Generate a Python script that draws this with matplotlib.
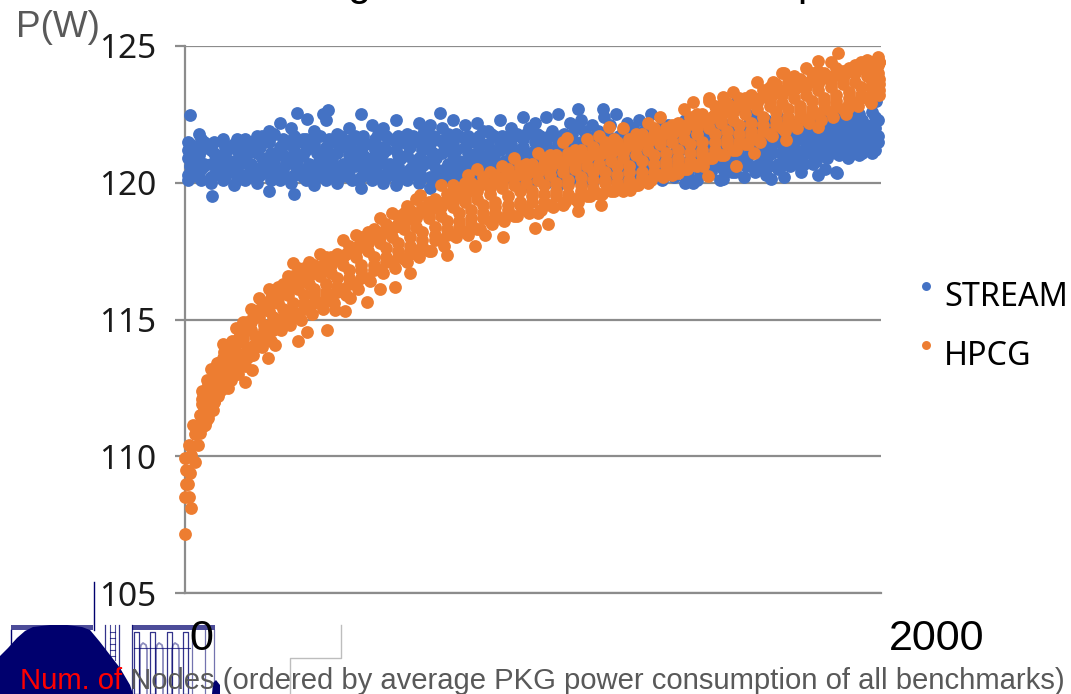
import matplotlib
matplotlib.use("Agg")
import matplotlib.pyplot as plt
from matplotlib.patches import Polygon, Rectangle

W, H = 1071, 694
BLUE = "#4472C4"
ORANGE = "#ED7D31"
NAVY = "#00006e"
GRID = "#8c8c8c"
TEXT_GRAY = "#595959"
NOTO = ["Noto Sans", "DejaVu Sans"]
ARIAL = ["Liberation Sans", "DejaVu Sans"]

y_ticks = [105, 110, 115, 120, 125]
x_ticks = [0, 2000]
x_tick_labels = ["0", "2000"]

stream_x_a = [8, 40, 75, 108, 140, 172, 208, 240, 272, 305, 340, 372, 405, 438, 470, 505, 538, 570, 605, 638,
              672, 705, 738, 770, 805, 838, 872, 905, 938, 970, 1005, 1038, 1072, 1105, 1138, 1170, 1205, 1238, 1270, 1305,
              1338, 1372, 1405, 1438, 1470, 1505, 1538, 1572, 1605, 1638, 1670, 1705, 1738, 1770, 1805, 1838, 1872, 1905, 1938, 1975]
stream_x_b = [22, 55, 90, 122, 155, 190, 222, 255, 290, 322, 355, 388, 422, 455, 488, 520, 555, 588, 620, 655,
              688, 722, 755, 788, 820, 855, 888, 920, 955, 988, 1020, 1055, 1088, 1120, 1155, 1188, 1220, 1255, 1288, 1320,
              1355, 1388, 1420, 1455, 1488, 1520, 1555, 1588, 1620, 1655, 1688, 1720, 1755, 1788, 1820, 1855, 1888, 1920, 1955, 1992]
stream_x_c = [14, 47, 82, 115, 148, 180, 215, 248, 281, 314, 348, 380, 414, 446, 479, 512, 546, 579, 612, 646,
              680, 714, 746, 779, 812, 846, 880, 912, 946, 979, 1012, 1046, 1080, 1112, 1146, 1179, 1212, 1246, 1279, 1312,
              1346, 1380, 1412, 1446, 1479, 1512, 1546, 1580, 1612, 1646, 1679, 1712, 1746, 1779, 1812, 1846, 1880, 1912, 1946, 1984]
stream_top = [121.5, 121.8, 121.2, 121.6, 121.3, 121.4, 121.7, 121.9, 122.2, 122.0, 121.6, 121.9, 122.3, 121.8, 122.0, 122.5, 122.1, 122.0, 122.3, 121.8,
              122.2, 122.1, 122.0, 122.3, 122.1, 122.2, 121.9, 122.3, 122.0, 122.4, 122.2, 122.4, 122.5, 122.2, 122.3, 122.1, 122.4, 122.5, 122.2, 122.3,
              122.5, 122.1, 122.0, 122.3, 122.1, 122.2, 122.4, 122.1, 122.7, 122.5, 122.3, 122.4, 122.2, 122.2, 122.3, 122.4, 122.4, 122.5, 122.5, 122.6]
stream_up = [121.3, 121.5, 121.0, 121.2, 121.3, 121.5, 121.7, 121.8, 121.4, 121.6, 121.3, 121.7, 121.5, 121.6, 121.7, 121.4, 121.8, 121.6, 121.5, 121.7,
             121.9, 121.6, 121.8, 121.7, 121.5, 121.9, 121.7, 121.6, 121.8, 122.0, 121.7, 121.9, 121.8, 122.0, 121.7, 121.9, 122.1, 121.8, 122.0, 121.9,
             121.8, 122.1, 121.9, 121.7, 122.0, 121.9, 122.1, 121.8, 122.2, 122.0, 121.9, 122.1, 121.8, 122.0, 121.9, 122.1, 122.0, 122.2, 122.1, 122.3]
stream_r1 = [121.2, 121.3, 121.4, 121.5, 121.4, 121.6, 121.3, 121.5, 121.3, 121.4, 121.5, 121.4, 121.3, 121.5, 121.4, 121.5, 121.4, 121.3, 121.5, 121.4,
             121.5, 121.4, 121.5, 121.4, 121.6, 121.5, 121.4, 121.5, 121.4, 121.6, 121.5, 121.4, 121.5, 121.6, 121.5, 121.5, 121.6, 121.5, 121.6, 121.6,
             121.7, 121.6, 121.5, 121.6, 121.7, 121.6, 121.7, 121.6, 121.7, 121.8, 121.7, 121.8, 121.7, 121.9, 121.8, 121.9, 121.9, 122.0, 122.0, 122.1]
stream_mid = [120.9, 121.0, 120.7, 120.9, 120.8, 121.0, 121.1, 120.9, 121.2, 120.9, 121.0, 121.3, 120.8, 121.1, 121.0, 121.2, 120.9, 121.1, 121.2, 121.0,
              120.9, 121.2, 121.1, 121.0, 121.3, 121.1, 121.0, 121.2, 121.1, 121.3, 121.2, 121.0, 121.3, 121.2, 121.4, 121.1, 121.3, 121.2, 121.4, 121.2,
              121.5, 121.3, 121.1, 121.4, 121.3, 121.2, 121.5, 121.3, 121.4, 121.6, 121.2, 121.5, 121.3, 121.6, 121.5, 121.7, 121.6, 121.7, 121.8, 121.9]
stream_r2 = [120.8, 120.7, 120.9, 120.7, 120.8, 120.7, 120.9, 120.8, 120.7, 120.8, 120.7, 120.9, 120.8, 120.7, 120.9, 120.8, 120.8, 120.7, 120.9, 120.8,
             120.8, 120.9, 120.7, 120.8, 120.9, 120.8, 120.9, 120.8, 120.9, 120.8, 120.9, 120.8, 121.0, 120.9, 121.0, 121.0, 120.9, 121.0, 121.1, 121.0,
             121.1, 121.0, 121.2, 121.1, 121.0, 121.2, 121.1, 121.2, 121.3, 121.2, 121.4, 121.3, 121.2, 121.4, 121.3, 121.5, 121.5, 121.6, 121.6, 121.7]
stream_low = [120.5, 120.6, 120.4, 120.5, 120.7, 120.4, 120.6, 120.5, 120.7, 120.4, 120.6, 120.5, 120.7, 120.4, 120.6, 120.5, 120.7, 120.5, 120.4, 120.6,
              120.7, 120.5, 120.6, 120.4, 120.7, 120.6, 120.5, 120.7, 120.6, 120.5, 120.7, 120.6, 120.8, 120.6, 120.7, 120.8, 120.6, 120.8, 120.7, 120.9,
              120.7, 120.6, 120.8, 120.9, 120.7, 120.6, 120.9, 120.8, 121.0, 120.8, 121.1, 120.9, 120.8, 121.1, 121.0, 121.3, 121.2, 121.4, 121.4, 121.5]
stream_r3 = [120.3, 120.4, 120.2, 120.3, 120.4, 120.3, 120.2, 120.4, 120.3, 120.2, 120.4, 120.3, 120.2, 120.4, 120.3, 120.2, 120.4, 120.3, 120.2, 120.4,
             120.3, 120.2, 120.4, 120.3, 120.4, 120.3, 120.4, 120.3, 120.4, 120.3, 120.4, 120.3, 120.4, 120.5, 120.4, 120.5, 120.4, 120.5, 120.4, 120.5,
             120.6, 120.5, 120.6, 120.5, 120.6, 120.5, 120.7, 120.6, 120.8, 120.6, 120.9, 120.7, 120.8, 120.9, 121.0, 121.0, 121.1, 121.2, 121.2, 121.3]
stream_bot = [120.1, 120.2, 120.0, 120.1, 119.9, 120.1, 120.0, 119.7, 120.1, 120.0, 120.2, 119.9, 120.1, 120.0, 120.2, 119.8, 120.1, 120.0, 119.9, 120.1,
              120.0, 119.8, 120.1, 120.2, 120.0, 119.8, 120.1, 120.0, 120.2, 119.9, 120.1, 120.0, 119.9, 120.1, 120.2, 120.0, 120.2, 120.1, 120.0, 120.2,
              120.3, 120.1, 120.2, 120.0, 120.1, 120.3, 120.1, 120.4, 120.2, 120.4, 120.3, 120.5, 120.6, 120.4, 120.7, 120.5, 120.4, 120.9, 121.0, 121.1]
stream_r4 = [121.1, 121.2, 121.1, 121.0, 121.2, 121.1, 121.3, 121.1, 121.0, 121.2, 121.2, 121.1, 121.1, 121.3, 121.2, 121.0, 121.2, 121.2, 121.0, 121.3,
             121.2, 121.1, 121.3, 121.2, 121.1, 121.3, 121.2, 121.3, 121.2, 121.1, 121.3, 121.2, 121.1, 121.3, 121.2, 121.3, 121.1, 121.4, 121.2, 121.4,
             121.3, 121.5, 121.4, 121.2, 121.5, 121.4, 121.3, 121.5, 121.5, 121.4, 121.5, 121.6, 121.5, 121.7, 121.6, 121.8, 121.8, 121.9, 121.9, 122.0]
stream_r5 = [120.6, 120.5, 120.7, 120.6, 120.5, 120.7, 120.5, 120.6, 120.5, 120.7, 120.5, 120.7, 120.6, 120.5, 120.7, 120.6, 120.5, 120.7, 120.6, 120.5,
             120.6, 120.7, 120.5, 120.7, 120.5, 120.7, 120.6, 120.5, 120.7, 120.7, 120.5, 120.7, 120.6, 120.7, 120.6, 120.7, 120.8, 120.6, 120.8, 120.7,
             120.9, 120.8, 120.7, 120.8, 120.9, 120.8, 121.0, 120.9, 120.9, 121.1, 121.0, 121.1, 121.0, 121.2, 121.2, 121.4, 121.4, 121.5, 121.5, 121.6]
stream_r6 = [120.2, 120.1, 120.3, 120.2, 120.1, 120.2, 120.3, 120.1, 120.2, 120.3, 120.1, 120.2, 120.3, 120.2, 120.1, 120.3, 120.2, 120.2, 120.1, 120.3,
             120.2, 120.1, 120.3, 120.1, 120.2, 120.2, 120.3, 120.2, 120.1, 120.2, 120.3, 120.2, 120.2, 120.3, 120.3, 120.2, 120.3, 120.3, 120.2, 120.4,
             120.4, 120.3, 120.4, 120.3, 120.4, 120.4, 120.5, 120.4, 120.6, 120.5, 120.6, 120.6, 120.7, 120.7, 120.8, 120.9, 121.0, 121.0, 121.1, 121.2]
stream_r7 = [121.4, 121.6, 121.5, 121.3, 121.6, 121.5, 121.6, 121.7, 121.6, 121.7, 121.6, 121.7, 121.6, 121.7, 121.6, 121.7, 121.6, 121.7, 121.7, 121.6,
             121.7, 121.7, 121.6, 121.8, 121.7, 121.7, 121.8, 121.7, 121.7, 121.8, 121.8, 121.7, 121.7, 121.8, 121.9, 121.7, 121.8, 121.7, 121.8, 121.8,
             121.9, 121.8, 121.8, 121.9, 121.9, 122.0, 121.9, 122.0, 121.9, 122.1, 122.0, 122.0, 122.0, 122.1, 122.1, 122.2, 122.2, 122.2, 122.3, 122.4]
stream_extra_x = [14, 78, 313, 322, 351, 397, 412, 734, 1128, 1200, 1459, 1545, 1583, 1683, 1721, 1819, 1873, 1986]
stream_extra_y = [122.48, 119.5, 119.6, 122.55, 122.33, 122.5, 122.65, 122.55, 122.7, 122.7, 120.0, 120.15, 122.95, 120.15, 120.2, 120.3, 120.35, 123.0]

# HPCG, the narrow start first and then rows along the curve
hpcg_start_x = [0, 0, 11, 17, 3, 8, 3, 14, 0, 29, 17, 11, 37, 29, 43, 23, 58, 43, 60]
hpcg_start_y = [107.15, 108.5, 108.5, 108.1, 109.0, 109.0, 109.5, 109.4, 109.95, 109.8, 110.05, 110.4, 110.4, 110.8, 110.85, 111.15, 111.15, 111.5, 111.3]
hpcg_x_a = [50, 62, 76, 92, 108, 126, 146, 168, 190, 214, 240, 268, 296, 326, 356, 388, 420, 455, 490, 525,
            560, 595, 630, 665, 700, 735, 770, 805, 840, 875, 910, 945, 980, 1015, 1050, 1085, 1120, 1155, 1190, 1225,
            1260, 1295, 1330, 1365, 1400, 1435, 1470, 1505, 1540, 1575, 1610, 1645, 1680, 1715, 1750, 1785, 1820, 1855, 1890, 1925, 1960, 1990]
hpcg_x_b = [56, 69, 84, 100, 117, 136, 157, 179, 202, 227, 254, 282, 311, 341, 372, 404, 437, 472, 507, 542,
            577, 612, 647, 682, 717, 752, 787, 822, 857, 892, 927, 962, 997, 1032, 1067, 1102, 1137, 1172, 1207, 1242,
            1277, 1312, 1347, 1382, 1417, 1452, 1487, 1522, 1557, 1592, 1627, 1662, 1697, 1732, 1767, 1802, 1837, 1872, 1907, 1942, 1975, 1995]
hpcg_x_c = [53, 65, 80, 96, 112, 131, 151, 173, 196, 220, 247, 275, 303, 333, 364, 396, 428, 463, 498, 533,
            568, 603, 638, 673, 708, 743, 778, 813, 848, 883, 918, 953, 988, 1023, 1058, 1093, 1128, 1163, 1198, 1233,
            1268, 1303, 1338, 1373, 1408, 1443, 1478, 1513, 1548, 1583, 1618, 1653, 1688, 1723, 1758, 1793, 1828, 1863, 1898, 1933, 1968, 1993]
hpcg_top = [112.4, 112.8, 113.2, 113.4, 114.1, 114.0, 114.7, 114.9, 115.4, 115.8, 116.1, 116.2, 116.6, 116.9, 117.1, 117.4, 117.3, 117.9, 118.1, 118.2,
            118.7, 118.9, 118.9, 119.4, 119.3, 119.9, 119.9, 120.0, 120.5, 120.4, 120.6, 120.9, 120.7, 121.1, 121.0, 121.5, 121.2, 121.6, 121.7, 121.5,
            122.0, 121.8, 122.2, 122.4, 122.1, 122.7, 122.5, 123.0, 122.8, 123.3, 123.1, 123.7, 123.5, 124.0, 123.9, 124.2, 124.1, 124.4, 124.1, 124.3, 124.5, 124.6]
hpcg_hi = [112.2, 112.6, 113.0, 113.4, 113.9, 114.2, 114.5, 114.9, 115.3, 115.6, 115.9, 116.3, 116.6, 116.9, 117.0, 117.3, 117.4, 117.7, 118.0, 118.3,
           118.5, 118.8, 119.0, 119.1, 119.4, 119.6, 119.8, 120.0, 120.2, 120.3, 120.5, 120.6, 120.7, 120.9, 121.0, 121.1, 121.2, 121.3, 121.5, 121.5,
           121.6, 121.8, 122.0, 122.0, 122.2, 122.4, 122.5, 122.8, 122.9, 123.1, 123.2, 123.4, 123.6, 123.7, 123.8, 124.0, 124.0, 124.2, 124.2, 124.4, 124.4, 124.4]
hpcg_up = [112.2, 112.5, 112.8, 113.4, 113.8, 113.9, 114.3, 114.7, 115.1, 115.5, 115.8, 116.0, 116.4, 116.6, 116.8, 117.0, 117.2, 117.5, 117.7, 118.0,
           118.3, 118.5, 118.7, 119.0, 119.1, 119.3, 119.6, 119.8, 120.0, 120.1, 120.3, 120.4, 120.6, 120.7, 120.8, 121.0, 121.1, 121.2, 121.3, 121.4,
           121.5, 121.6, 121.8, 121.9, 122.0, 122.2, 122.4, 122.5, 122.7, 122.9, 123.0, 123.2, 123.3, 123.5, 123.7, 123.8, 123.9, 124.0, 124.1, 124.2, 124.3, 124.4]
hpcg_over = [112.3, 112.6, 112.9, 113.4, 113.8, 114.0, 114.3, 114.7, 115.1, 115.5, 115.8, 116.0, 116.3, 116.5, 116.8, 117.0, 117.2, 117.4, 117.7, 118.0,
             118.2, 118.4, 118.7, 118.9, 119.1, 119.3, 119.5, 119.7, 119.9, 120.0, 120.2, 120.3, 120.4, 120.5, 120.7, 120.8, 120.9, 121.0, 121.1, 121.2,
             121.3, 121.4, 121.6, 121.8, 121.9, 122.1, 122.2, 122.4, 122.6, 122.8, 122.9, 123.1, 123.2, 123.4, 123.5, 123.7, 123.8, 123.9, 124.0, 124.2, 124.3, 124.4]
hpcg_r1 = [112.1, 112.4, 112.7, 113.2, 113.6, 113.8, 114.1, 114.5, 114.9, 115.3, 115.6, 115.8, 116.1, 116.3, 116.6, 116.8, 117.0, 117.3, 117.5, 117.8,
           118.0, 118.3, 118.5, 118.7, 118.9, 119.1, 119.3, 119.5, 119.7, 119.8, 120.0, 120.2, 120.3, 120.4, 120.5, 120.6, 120.7, 120.9, 121.0, 121.1,
           121.1, 121.3, 121.5, 121.6, 121.8, 121.9, 122.0, 122.3, 122.4, 122.6, 122.8, 122.9, 123.0, 123.2, 123.4, 123.5, 123.6, 123.7, 123.8, 124.0, 124.1, 124.3]
hpcg_mid = [111.9, 112.1, 112.5, 113.0, 113.3, 113.7, 113.8, 114.3, 114.6, 115.1, 115.3, 115.6, 115.9, 116.1, 116.3, 116.6, 116.7, 117.0, 117.3, 117.5,
            117.8, 118.0, 118.3, 118.4, 118.7, 118.8, 119.1, 119.3, 119.4, 119.6, 119.8, 119.9, 120.0, 120.1, 120.3, 120.4, 120.5, 120.6, 120.7, 120.8,
            120.9, 121.0, 121.2, 121.4, 121.5, 121.6, 121.8, 122.0, 122.2, 122.3, 122.5, 122.7, 122.8, 122.9, 123.1, 123.2, 123.4, 123.5, 123.6, 123.7, 123.9, 124.0]
hpcg_r2 = [111.7, 112.0, 112.3, 112.8, 113.1, 113.4, 113.7, 114.0, 114.4, 114.8, 115.1, 115.4, 115.6, 115.9, 116.1, 116.3, 116.5, 116.8, 117.0, 117.3,
           117.6, 117.8, 118.0, 118.2, 118.4, 118.6, 118.9, 119.0, 119.2, 119.3, 119.5, 119.7, 119.7, 119.9, 120.0, 120.1, 120.2, 120.4, 120.4, 120.6,
           120.6, 120.8, 121.0, 121.1, 121.2, 121.4, 121.5, 121.8, 121.9, 122.1, 122.2, 122.4, 122.6, 122.7, 122.8, 123.0, 123.1, 123.2, 123.3, 123.5, 123.7, 123.8]
hpcg_low = [111.5, 111.8, 112.0, 112.6, 112.9, 113.1, 113.5, 113.8, 114.1, 114.6, 114.8, 115.1, 115.3, 115.6, 115.9, 116.0, 116.2, 116.5, 116.8, 117.0,
            117.3, 117.5, 117.7, 117.9, 118.1, 118.3, 118.6, 118.7, 118.9, 119.1, 119.2, 119.3, 119.5, 119.6, 119.7, 119.9, 119.9, 120.1, 120.1, 120.3,
            120.4, 120.4, 120.7, 120.8, 120.9, 121.1, 121.2, 121.5, 121.6, 121.8, 121.9, 122.1, 122.3, 122.4, 122.6, 122.7, 122.9, 123.0, 123.1, 123.2, 123.5, 123.6]
hpcg_lo = [111.3, 111.6, 112.0, 112.4, 112.7, 113.0, 113.3, 113.6, 114.0, 114.4, 114.6, 114.9, 115.1, 115.4, 115.6, 115.8, 116.0, 116.3, 116.5, 116.8,
           117.1, 117.3, 117.5, 117.7, 117.9, 118.1, 118.4, 118.5, 118.7, 118.9, 119.0, 119.2, 119.3, 119.3, 119.5, 119.6, 119.7, 119.8, 120.0, 120.0,
           120.1, 120.2, 120.4, 120.6, 120.7, 120.8, 121.0, 121.2, 121.4, 121.5, 121.7, 121.9, 122.1, 122.2, 122.4, 122.5, 122.7, 122.8, 122.9, 123.1, 123.3, 123.4]
hpcg_bot = [111.2, 111.5, 111.8, 112.3, 112.5, 112.8, 113.1, 113.4, 113.7, 114.1, 114.3, 114.9, 115.0, 115.2, 115.4, 115.6, 115.7, 116.1, 116.3, 116.5,
            116.8, 117.1, 117.2, 117.5, 117.5, 117.9, 118.1, 118.2, 118.3, 118.6, 118.7, 118.8, 119.0, 118.9, 119.2, 119.2, 119.4, 119.5, 119.6, 119.7,
            119.7, 119.9, 120.0, 120.3, 120.3, 120.5, 120.6, 120.9, 121.0, 121.2, 121.4, 121.6, 121.8, 122.0, 122.1, 122.3, 122.5, 122.6, 122.7, 122.9, 123.1, 123.3]
hpcg_under = [111.1, 111.4, 111.7, 112.2, 112.5, 112.8, 113.0, 113.3, 113.7, 114.0, 114.2, 114.6, 114.8, 115.0, 115.2, 115.4, 115.6, 115.9, 116.1, 116.4,
              116.7, 116.9, 117.1, 117.3, 117.5, 117.7, 118.0, 118.1, 118.3, 118.5, 118.6, 118.8, 118.9, 119.0, 119.1, 119.3, 119.3, 119.5, 119.6, 119.7,
              119.8, 119.9, 120.1, 120.3, 120.4, 120.5, 120.7, 120.9, 121.0, 121.2, 121.4, 121.5, 121.7, 121.9, 122.0, 122.2, 122.3, 122.4, 122.5, 122.8, 123.0, 123.2]
hpcg_extra_x = [311, 325, 350, 432, 460, 638, 676, 814, 1099, 1217, 1232, 1280, 1459, 1502, 1505, 1545, 1689, 1721, 1818, 1876]
hpcg_extra_y = [117.05, 114.2, 114.55, 115.35, 115.3, 119.15, 119.55, 120.3, 121.65, 122.05, 121.6, 119.75, 122.95, 120.25, 123.1, 123.15, 123.7, 124.0, 124.45, 124.75]
# lower edge of the band
hpcg_edge_x = [95, 124, 173, 192, 239, 259, 408, 475, 523, 561, 604, 647, 647, 754, 834, 863, 915, 1007, 1042, 1128,
               1194, 1373, 1416, 1488, 1583, 1635, 1727, 1818, 1905, 1971]
hpcg_edge_y = [112.3, 112.5, 112.7, 113.15, 113.6, 114.05, 114.6, 115.8, 115.65, 116.1, 116.2, 116.7, 117.4, 117.35, 117.7, 118.1, 118.0, 118.35, 118.5, 118.95,
               119.2, 120.2, 120.35, 120.6, 120.6, 121.1, 121.55, 122.05, 122.75, 122.9]

stream_x = (stream_x_a + stream_x_b + stream_x_c + stream_x_a + stream_x_c + stream_x_a + stream_x_b + stream_x_b
            + stream_x_c + stream_x_a + stream_x_c + stream_x_a + stream_extra_x)
stream_y = (stream_top + stream_up + stream_r7 + stream_r1 + stream_r4 + stream_mid + stream_r2 + stream_low
            + stream_r5 + stream_r3 + stream_r6 + stream_bot + stream_extra_y)
hpcg_x = (hpcg_start_x + hpcg_x_a + hpcg_x_b + hpcg_x_b + hpcg_x_c + hpcg_x_a + hpcg_x_a + hpcg_x_b + hpcg_x_b
          + hpcg_x_b + hpcg_x_a + hpcg_x_c + hpcg_extra_x + hpcg_edge_x)
hpcg_y = (hpcg_start_y + hpcg_top + hpcg_hi + hpcg_up + hpcg_over + hpcg_r1 + hpcg_mid + hpcg_r2 + hpcg_low
          + hpcg_lo + hpcg_bot + hpcg_under + hpcg_extra_y + hpcg_edge_y)

fig = plt.figure(figsize=(W / 100, H / 100), dpi=100)
ax = fig.add_axes([185 / W, 1 - 593 / H, (881 - 185) / W, (593 - 46) / H])
ax.patch.set_visible(False)

stream = ax.scatter(stream_x, stream_y, s=85, color=BLUE, linewidths=0, clip_on=False, zorder=3, label="STREAM")
hpcg = ax.scatter(hpcg_x, hpcg_y, s=85, color=ORANGE, linewidths=0, clip_on=False, zorder=4, label="HPCG")

ax.set_xlim(0, 2000)
ax.set_ylim(105, 125)
ax.set_yticks(y_ticks)
ax.set_xticks([])
ax.grid(axis="y", color=GRID, linewidth=1.6, zorder=1)
ax.set_axisbelow(True)
for side in ["top", "right"]:
    ax.spines[side].set_visible(False)
for side in ["left", "bottom"]:
    ax.spines[side].set_color(GRID)
    ax.spines[side].set_linewidth(1.6)
ax.tick_params(axis="y", length=7.5, width=1.6, color=GRID, pad=13, labelcolor="#1a1a1a")
for label in ax.get_yticklabels():
    label.set_family(NOTO)
    label.set_fontsize(24)

# x labels sit to the right of their positions in the original
for value, text, dx in zip(x_ticks, x_tick_labels, [3.5, 6]):
    ax.annotate(text, xy=(value, 0), xycoords=ax.get_xaxis_transform(), xytext=(dx, -33),
                textcoords="offset points", ha="left", va="center", fontsize=31,
                family=ARIAL, color="black", annotation_clip=False)

fig.text(16 / W, 1 - 37 / H, "P(W)", fontsize=26.6, family=ARIAL, color=TEXT_GRAY, va="baseline")

# only the descenders of the cut off title are left in the picture
fig.text(347 / W, 1 + 5 / H, "g", fontsize=30, family=ARIAL, color="black", va="baseline")
fig.text(797 / W, 1 + 5 / H, "p", fontsize=30, family=ARIAL, color="black", va="baseline")

num_of = fig.text(20 / W, 1 - 689 / H, "Num. of", fontsize=21.1, family=ARIAL, color="red", va="baseline")
ax.annotate(" Nodes (ordered by average PKG power consumption of all benchmarks)", xy=(1, 0), xycoords=num_of,
            ha="left", va="bottom", fontsize=21.1, family=ARIAL, color=TEXT_GRAY, annotation_clip=False)

legend = ax.legend(handles=[stream, hpcg], loc="upper left", bbox_to_anchor=(912 / W, 1 - 281 / H),
                   bbox_transform=fig.transFigure, frameon=False, markerscale=0.7, handletextpad=0.12,
                   labelspacing=0.8, borderpad=0, borderaxespad=0, handlelength=0.88, scatteryoffsets=[0.875],
                   prop={"family": NOTO, "size": 23.3})

# scan debris at the lower left, in pixel coordinates
junk = fig.add_axes([0, 0, 1, 1], zorder=-1)
junk.set_xlim(0, W)
junk.set_ylim(H, 0)
junk.axis("off")

junk.add_patch(Polygon([(0, 694), (0, 656), (8, 648), (17, 638), (25, 631), (33, 627), (50, 625), (67, 625), (82, 627),
                        (90, 630), (100, 642), (110, 655), (120, 668), (130, 685), (133, 694)], color=NAVY, linewidth=0))
junk.add_patch(Polygon([(212, 694), (213, 683), (216, 680), (220, 685), (220, 694)], color=NAVY, linewidth=0))

for start, stop in [(11, 93), (132, 215)]:
    junk.add_patch(Rectangle((start, 625), stop - start, 5, color=NAVY, alpha=0.7, linewidth=0))
junk.plot([94, 94], [582, 630], color=NAVY, lw=1)
junk.plot([11, 11], [630, 660], color=NAVY, lw=1)
for x in [105, 119, 132]:
    junk.plot([x, x], [625, 694], color=NAVY, lw=0.9, alpha=0.8)
for x in [110, 115]:
    junk.plot([x, x], [625, 660], color=NAVY, lw=0.8, alpha=0.7)
for y in [632, 638, 644, 650, 656]:
    junk.plot([110, 115], [y, y], color=NAVY, lw=0.8, alpha=0.7)
# the arches next to the "0"
for x in [134, 150, 167, 183]:
    junk.plot([x, x, x + 5, x + 5, x], [694, 632, 632, 694, 694], color=NAVY, lw=0.9, alpha=0.8)
for x in [140, 156, 172]:
    junk.plot([x, x, x + 1, x + 3, x + 6, x + 7, x + 7], [694, 650, 645, 643, 645, 650, 694], color=NAVY, lw=1.3, alpha=0.45)
junk.plot([134, 190], [648, 648], color=NAVY, lw=0.8, alpha=0.7)
for x in [192, 205, 214]:
    junk.plot([x, x], [630, 694], color=NAVY, lw=0.9, alpha=0.55)

junk.plot([341, 341, 290, 290], [625, 658, 658, 694], color="#bdbdbd", lw=1)

fig.savefig("out.png", dpi=100)
